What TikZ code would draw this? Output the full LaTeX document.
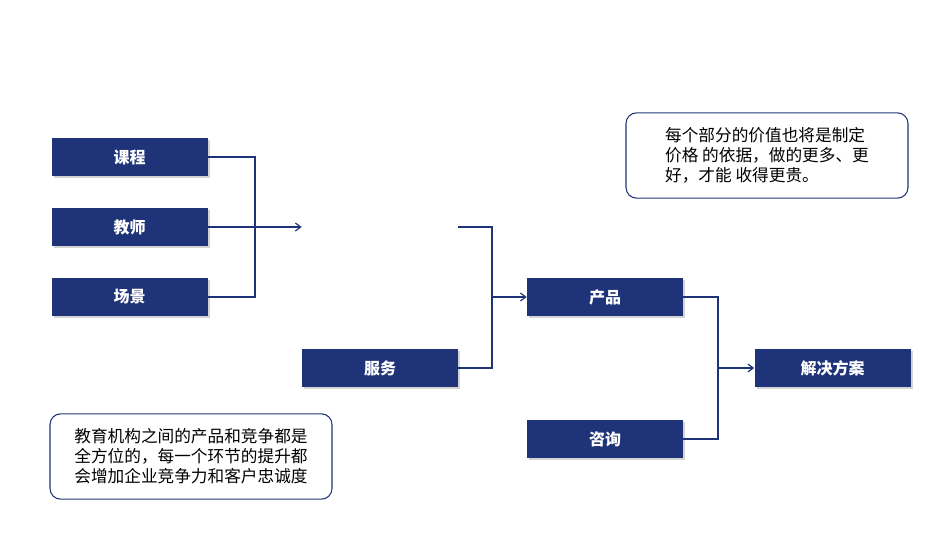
\documentclass[tikz,border=0pt]{standalone}
\usepackage{fontspec}
\setmainfont{Noto Sans CJK SC}
\usetikzlibrary{shadows,arrows.meta}
\definecolor{navy}{HTML}{1F3478}
\begin{document}
\begin{tikzpicture}[x=0.75pt,y=-0.75pt,
  box/.style={fill=navy,text=white,font=\bfseries\fontsize{12}{14}\selectfont,minimum width=117pt,minimum height=28.5pt,inner sep=0,drop shadow={shadow xshift=1.5pt,shadow yshift=-1.5pt,opacity=0.35}},
  ghost/.style={minimum width=117pt,minimum height=28.5pt,inner sep=0},
  line/.style={draw=navy,line width=0.9pt},
  arr/.style={line,-{Straight Barb[length=4pt,width=6pt]}},
  note/.style={draw=navy,rounded corners=8pt,line width=0.8pt,minimum width=211.5pt,minimum height=64pt,align=left,font=\fontsize{12.5}{15}\selectfont,text=black}]
\useasboundingbox (0,0) rectangle (950,535);
\node[box] (kc) at (129.5,157) {课程};
\node[box] (js) at (129.5,227) {教师};
\node[box] (cj) at (129.5,297) {场景};
\node[ghost] (hid) at (380,227) {};
\node[box] (fw) at (380,368) {服务};
\node[box] (cp) at (605,297) {产品};
\node[box] (zx) at (605,439) {咨询};
\node[box] (jj) at (832.5,368) {解决方案};
\draw[line] (kc.east) -- (255,157) -- (255,297) -- (cj.east);
\draw[arr] (js.east) -- (hid.west);
\draw[line] (hid.east) -- (492,227) -- (492,368) -- (fw.east);
\draw[arr] (492,297) -- (cp.west);
\draw[line] (cp.east) -- (718,297) -- (718,439) -- (zx.east);
\draw[arr] (718,368) -- (jj.west);
\node[note] (n1) at (767,155.5) {每个部分的价值也将是制定\\价格 的依据，做的更多、更\\好，才能 收得更贵。};
\node[note] (n2) at (191,456.5) {教育机构之间的产品和竞争都是\\全方位的，每一个环节的提升都\\会增加企业竞争力和客户忠诚度};
\end{tikzpicture}
\end{document}
